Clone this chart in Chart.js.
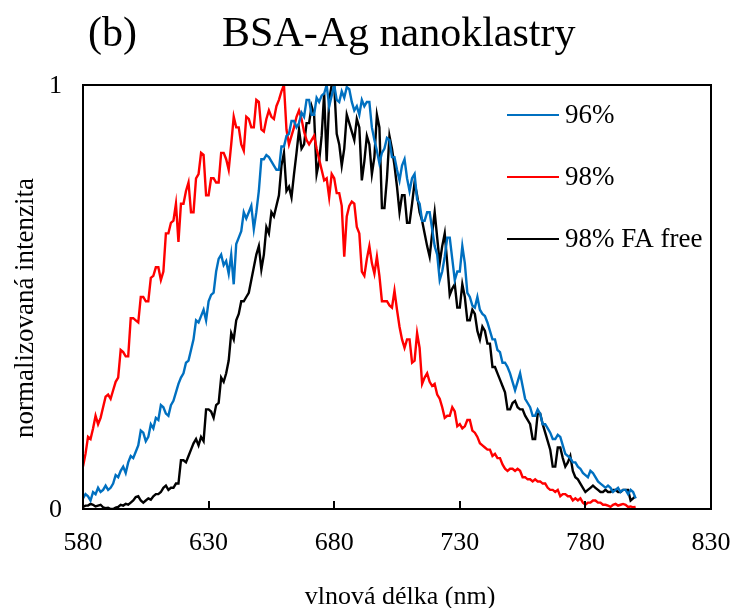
<!DOCTYPE html>
<html>
<head>
<meta charset="utf-8">
<script src="https://cdn.jsdelivr.net/npm/chart.js@4"></script>
<style>
  html, body { margin: 0; padding: 0; background: #fff; }
  #wrap { width: 734px; height: 608px; }
</style>
</head>
<body>
<div id="wrap"><canvas id="spectra" width="734" height="608"></canvas></div>
<script>
// emission wavelength grid (nm), one row = 10 nm
const wavelengths = [
  580, 581, 582, 583, 584, 585, 586, 587, 588, 589,
  590, 591, 592, 593, 594, 595, 596, 597, 598, 599,
  600, 601, 602, 603, 604, 605, 606, 607, 608, 609,
  610, 611, 612, 613, 614, 615, 616, 617, 618, 619,
  620, 621, 622, 623, 624, 625, 626, 627, 628, 629,
  630, 631, 632, 633, 634, 635, 636, 637, 638, 639,
  640, 641, 642, 643, 644, 645, 646, 647, 648, 649,
  650, 651, 652, 653, 654, 655, 656, 657, 658, 659,
  660, 661, 662, 663, 664, 665, 666, 667, 668, 669,
  670, 671, 672, 673, 674, 675, 676, 677, 678, 679,
  680, 681, 682, 683, 684, 685, 686, 687, 688, 689,
  690, 691, 692, 693, 694, 695, 696, 697, 698, 699,
  700, 701, 702, 703, 704, 705, 706, 707, 708, 709,
  710, 711, 712, 713, 714, 715, 716, 717, 718, 719,
  720, 721, 722, 723, 724, 725, 726, 727, 728, 729,
  730, 731, 732, 733, 734, 735, 736, 737, 738, 739,
  740, 741, 742, 743, 744, 745, 746, 747, 748, 749,
  750, 751, 752, 753, 754, 755, 756, 757, 758, 759,
  760, 761, 762, 763, 764, 765, 766, 767, 768, 769,
  770, 771, 772, 773, 774, 775, 776, 777, 778, 779,
  780, 781, 782, 783, 784, 785, 786, 787, 788, 789,
  790, 791, 792, 793, 794, 795, 796, 797, 798, 799,
  800
];

// normalized intensity, 96 %
const blue96 = [
  0.025, 0.035, 0.030, 0.020, 0.040, 0.035, 0.050, 0.040, 0.045, 0.055,
  0.045, 0.050, 0.060, 0.080, 0.075, 0.090, 0.100, 0.085, 0.110, 0.125,
  0.120, 0.135, 0.150, 0.185, 0.180, 0.160, 0.170, 0.200, 0.190, 0.215,
  0.210, 0.245, 0.240, 0.225, 0.220, 0.245, 0.255, 0.275, 0.295, 0.310,
  0.320, 0.345, 0.350, 0.375, 0.400, 0.445, 0.440, 0.455, 0.470, 0.445,
  0.490, 0.505, 0.510, 0.560, 0.590, 0.600, 0.575, 0.585, 0.555, 0.600,
  0.530, 0.625, 0.640, 0.655, 0.700, 0.685, 0.700, 0.715, 0.660, 0.700,
  0.750, 0.825, 0.825, 0.835, 0.830, 0.820, 0.810, 0.800, 0.800, 0.855,
  0.855, 0.880, 0.885, 0.915, 0.915, 0.900, 0.910, 0.935, 0.925, 0.965,
  0.965, 0.930, 0.930, 0.970, 0.960, 0.975, 0.980, 1.000, 0.950, 0.975,
  1.000, 0.965, 0.960, 0.985, 0.970, 0.995, 0.990, 0.960, 0.940, 0.950,
  0.930, 0.965, 0.950, 0.960, 0.960, 0.900, 0.870, 0.845, 0.815, 0.840,
  0.850, 0.875, 0.870, 0.830, 0.830, 0.800, 0.775, 0.810, 0.825, 0.780,
  0.750, 0.780, 0.790, 0.730, 0.720, 0.680, 0.680, 0.700, 0.700, 0.660,
  0.620, 0.600, 0.540, 0.560, 0.595, 0.640, 0.640, 0.590, 0.540, 0.560,
  0.560, 0.620, 0.580, 0.510, 0.500, 0.480, 0.475, 0.500, 0.470, 0.460,
  0.455, 0.440, 0.420, 0.400, 0.400, 0.375, 0.370, 0.345, 0.345, 0.335,
  0.320, 0.300, 0.280, 0.300, 0.320, 0.290, 0.260, 0.250, 0.240, 0.220,
  0.220, 0.235, 0.225, 0.200, 0.200, 0.190, 0.180, 0.165, 0.165, 0.175,
  0.170, 0.150, 0.130, 0.125, 0.120, 0.110, 0.110, 0.100, 0.095, 0.085,
  0.080, 0.075, 0.090, 0.085, 0.075, 0.065, 0.060, 0.055, 0.050, 0.055,
  0.050, 0.040, 0.045, 0.050, 0.040, 0.045, 0.045, 0.035, 0.045, 0.040,
  0.025
];

// normalized intensity, 98 %
const red98 = [
  0.100, 0.130, 0.170, 0.165, 0.190, 0.220, 0.200, 0.215, 0.240, 0.265,
  0.270, 0.260, 0.280, 0.300, 0.310, 0.375, 0.370, 0.360, 0.360, 0.450,
  0.450, 0.445, 0.440, 0.500, 0.500, 0.490, 0.490, 0.545, 0.550, 0.570,
  0.570, 0.540, 0.560, 0.650, 0.650, 0.675, 0.680, 0.720, 0.630, 0.720,
  0.720, 0.750, 0.770, 0.700, 0.700, 0.780, 0.790, 0.840, 0.835, 0.740,
  0.740, 0.780, 0.780, 0.770, 0.770, 0.840, 0.840, 0.825, 0.800, 0.860,
  0.925, 0.900, 0.900, 0.860, 0.845, 0.925, 0.920, 0.900, 0.900, 0.965,
  0.960, 0.895, 0.890, 0.920, 0.940, 0.925, 0.920, 0.950, 0.965, 0.985,
  1.000, 0.895, 0.860, 0.880, 0.900, 0.925, 0.940, 0.920, 0.890, 0.870,
  0.860, 0.870, 0.880, 0.850, 0.825, 0.800, 0.775, 0.780, 0.735, 0.790,
  0.780, 0.745, 0.745, 0.715, 0.595, 0.690, 0.715, 0.725, 0.720, 0.665,
  0.650, 0.560, 0.550, 0.590, 0.620, 0.580, 0.555, 0.595, 0.550, 0.490,
  0.490, 0.490, 0.480, 0.475, 0.515, 0.470, 0.430, 0.400, 0.380, 0.400,
  0.400, 0.345, 0.350, 0.415, 0.380, 0.295, 0.310, 0.320, 0.300, 0.290,
  0.295, 0.270, 0.260, 0.240, 0.215, 0.220, 0.220, 0.240, 0.230, 0.195,
  0.200, 0.190, 0.195, 0.210, 0.210, 0.185, 0.180, 0.170, 0.155, 0.150,
  0.145, 0.140, 0.140, 0.125, 0.130, 0.120, 0.120, 0.105, 0.095, 0.090,
  0.095, 0.095, 0.090, 0.095, 0.090, 0.075, 0.075, 0.070, 0.070, 0.065,
  0.070, 0.065, 0.065, 0.060, 0.060, 0.050, 0.045, 0.045, 0.040, 0.045,
  0.030, 0.035, 0.035, 0.030, 0.030, 0.020, 0.025, 0.020, 0.025, 0.015,
  0.010, 0.015, 0.015, 0.020, 0.020, 0.015, 0.015, 0.010, 0.010, 0.008,
  0.005, 0.010, 0.012, 0.008, 0.010, 0.012, 0.010, 0.005, 0.006, 0.004,
  0.005
];

// normalized intensity, 98 % FA free
const black98fa = [
  0.005, 0.008, 0.008, 0.012, 0.010, 0.006, 0.008, 0.010, 0.004, 0.002,
  0.003, 0.000, 0.000, 0.003, 0.005, 0.010, 0.008, 0.012, 0.010, 0.015,
  0.020, 0.028, 0.030, 0.020, 0.015, 0.020, 0.025, 0.022, 0.030, 0.035,
  0.035, 0.040, 0.050, 0.055, 0.045, 0.050, 0.050, 0.060, 0.060, 0.115,
  0.115, 0.110, 0.125, 0.140, 0.155, 0.165, 0.150, 0.170, 0.160, 0.235,
  0.235, 0.230, 0.215, 0.245, 0.250, 0.310, 0.300, 0.320, 0.350, 0.415,
  0.400, 0.445, 0.460, 0.490, 0.490, 0.500, 0.510, 0.540, 0.570, 0.600,
  0.620, 0.565, 0.600, 0.665, 0.650, 0.700, 0.690, 0.715, 0.740, 0.810,
  0.840, 0.750, 0.760, 0.735, 0.790, 0.840, 0.895, 0.850, 0.860, 0.910,
  0.910, 0.950, 0.930, 0.790, 0.820, 0.880, 0.980, 0.820, 0.965, 1.000,
  1.000, 0.885, 0.860, 0.810, 0.850, 0.930, 0.910, 0.890, 0.870, 0.920,
  0.900, 0.775, 0.820, 0.880, 0.860, 0.790, 0.830, 0.930, 0.900, 0.710,
  0.710, 0.780, 0.880, 0.850, 0.810, 0.760, 0.700, 0.740, 0.740, 0.675,
  0.675, 0.720, 0.770, 0.740, 0.700, 0.680, 0.650, 0.620, 0.595, 0.650,
  0.700, 0.640, 0.580, 0.620, 0.650, 0.580, 0.505, 0.520, 0.530, 0.475,
  0.475, 0.530, 0.500, 0.445, 0.445, 0.470, 0.460, 0.420, 0.400, 0.430,
  0.420, 0.390, 0.390, 0.335, 0.335, 0.320, 0.305, 0.290, 0.275, 0.235,
  0.235, 0.250, 0.255, 0.240, 0.235, 0.235, 0.220, 0.210, 0.200, 0.165,
  0.165, 0.225, 0.225, 0.200, 0.180, 0.160, 0.140, 0.100, 0.100, 0.145,
  0.145, 0.120, 0.100, 0.110, 0.125, 0.090, 0.075, 0.070, 0.060, 0.050,
  0.040, 0.045, 0.050, 0.055, 0.050, 0.045, 0.040, 0.040, 0.045, 0.040,
  0.040, 0.045, 0.045, 0.040, 0.040, 0.045, 0.045, 0.045, 0.020, 0.025,
  0.030
];

const seriesNames = ['96%', '98%', '98% FA free'];
const seriesColors = ['#0070C0', '#FF0000', '#000000'];
const xTickValues = [580, 630, 680, 730, 780, 830];
const yTickValues = [0, 1];

const SERIF = '"Liberation Serif", "Times New Roman", serif';

function toPoints(values) {
    return values.map((v, i) => ({ x: wavelengths[i], y: v }));
}

// all text, frame and inside tick marks are painted here
const decorPlugin = {
    id: 'decor',
    afterDraw(chart) {
        const ctx = chart.ctx;
        const area = chart.chartArea;
        const xs = chart.scales.x;
        const ys = chart.scales.y;
        ctx.save();

        // frame
        ctx.strokeStyle = '#000';
        ctx.lineWidth = 2;
        ctx.strokeRect(area.left, area.top, area.right - area.left, area.bottom - area.top);

        // x tick marks pointing inward
        xTickValues.forEach(v => {
            const px = Math.round(xs.getPixelForValue(v));
            ctx.beginPath();
            ctx.moveTo(px, area.bottom);
            ctx.lineTo(px, area.bottom - 8);
            ctx.stroke();
        });

        ctx.fillStyle = '#000';

        // title
        ctx.font = '42px ' + SERIF;
        ctx.textAlign = 'left';
        ctx.textBaseline = 'alphabetic';
        ctx.fillText('(b)', 88, 46);
        ctx.fillText('BSA-Ag nanoklastry', 222, 46);

        // x tick labels
        ctx.font = '26px ' + SERIF;
        ctx.textAlign = 'center';
        xTickValues.forEach(v => {
            ctx.fillText(String(v), xs.getPixelForValue(v), 550);
        });

        // y tick labels
        ctx.textAlign = 'right';
        ctx.textBaseline = 'middle';
        yTickValues.forEach(v => {
            ctx.fillText(String(v), 62, ys.getPixelForValue(v) + 1);
        });

        // axis titles
        ctx.textAlign = 'center';
        ctx.textBaseline = 'alphabetic';
        ctx.fillText('vlnová délka (nm)', 400, 604);

        ctx.save();
        ctx.translate(33, 308);
        ctx.rotate(-Math.PI / 2);
        ctx.font = '27px ' + SERIF;
        ctx.fillText('normalizovaná intenzita', 0, 0);
        ctx.restore();

        // legend
        ctx.font = '27px ' + SERIF;
        ctx.textAlign = 'left';
        ctx.textBaseline = 'middle';
        const legendY = [115, 177, 239];
        seriesNames.forEach((name, i) => {
            ctx.strokeStyle = seriesColors[i];
            ctx.lineWidth = 2;
            ctx.beginPath();
            ctx.moveTo(507, legendY[i]);
            ctx.lineTo(559, legendY[i]);
            ctx.stroke();
            ctx.fillText(name, 565, legendY[i] + 1);
        });

        ctx.restore();
    }
};

const datasets = [blue96, red98, black98fa].map((vals, i) => ({
    label: seriesNames[i],
    data: toPoints(vals),
    borderColor: seriesColors[i],
    borderWidth: 2.4,
    pointRadius: 0,
    tension: 0,
    fill: false
}));

new Chart(document.getElementById('spectra'), {
    type: 'line',
    data: { datasets },
    options: {
        responsive: false,
        animation: false,
        devicePixelRatio: 1,
        layout: { padding: { left: 0, right: 23, top: 85, bottom: 0 } },
        plugins: {
            legend: { display: false },
            tooltip: { enabled: false }
        },
        scales: {
            x: {
                type: 'linear',
                min: 580,
                max: 830,
                grid: { display: false, drawTicks: false },
                border: { display: false },
                ticks: { display: false, stepSize: 50 },
                afterFit(scale) { scale.height = 99; }
            },
            y: {
                min: 0,
                max: 1,
                grid: { display: false, drawTicks: false },
                border: { display: false },
                ticks: { display: false, stepSize: 1 },
                afterFit(scale) { scale.width = 83; }
            }
        }
    },
    plugins: [decorPlugin]
});
</script>
</body>
</html>
